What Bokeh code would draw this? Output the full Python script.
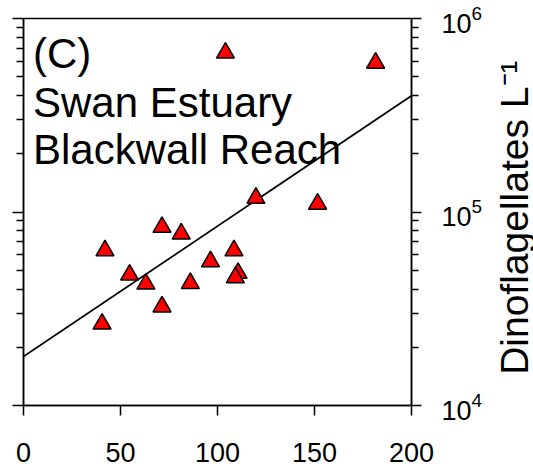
import math
from bokeh.plotting import figure
from bokeh.layouts import row
from bokeh.models import (LogAxis, FixedTicker, Range1d, Label,
                          CustomJSTickFormatter, ColumnDataSource)
from bokeh.core.properties import value
from bokeh.embed import file_html
from bokeh.resources import INLINE

# ---- data ----
flow = [104.1, 181.5, 119.8, 151.6, 71.4, 81.3, 42.0, 108.5, 96.4, 54.7,
        110.6, 109.2, 63.1, 86.0, 71.4, 40.5]
dino = [6.64e5, 5.89e5, 1.18e5, 1.10e5, 8.35e4, 7.71e4, 6.32e4, 6.32e4,
        5.54e4, 4.73e4, 4.83e4, 4.58e4, 4.25e4, 4.28e4, 3.24e4, 2.64e4]
fit_x = [0, 200]
fit_y = [1.79e4, 3.99e5]
x_ticks = [0, 50, 100, 150, 200]
y_major = [1e4, 1e5, 1e6]
y_minor = [2e4, 3e4, 4e4, 5e4, 6e4, 7e4, 8e4, 9e4,
           2e5, 3e5, 4e5, 5e5, 6e5, 7e5, 8e5, 9e5]
panel_lines = ["(C)", "Swan Estuary", "Blackwall Reach"]
panel_y = [6.59e5, 3.70e5, 2.10e5]
y_label = "Dinoflagellates L\u207b\u00b9"

FONT = "Liberation Sans"
W = 1.5

p = figure(width=493, height=467, output_backend="svg", toolbar_location=None,
           x_range=Range1d(0, 200), y_range=Range1d(1e4, 1e6),
           y_axis_type="log",
           min_border_left=23, min_border_right=82,
           min_border_top=18, min_border_bottom=62)
p.background_fill_color = "white"
p.border_fill_color = "white"
p.outline_line_color = "black"
p.outline_line_width = W
p.xgrid.visible = False
p.ygrid.visible = False

# bottom axis
xa = p.xaxis[0]
xa.ticker = FixedTicker(ticks=x_ticks)
xa.minor_tick_line_color = None
xa.major_tick_in = 0
xa.major_tick_out = 10
xa.axis_line_width = W
xa.major_tick_line_width = W
xa.major_label_text_font = FONT
xa.major_label_text_font_size = "27px"
xa.major_label_text_color = "black"
xa.major_label_standoff = 27
xa.axis_line_color = "black"

# left axis (ticks only)
ya = p.yaxis[0]
ya.ticker = FixedTicker(ticks=y_major, minor_ticks=y_minor)
ya.major_tick_in = 0
ya.major_tick_out = 11
ya.minor_tick_in = 0
ya.minor_tick_out = 7
ya.axis_line_width = W
ya.major_tick_line_width = W
ya.minor_tick_line_width = W
ya.formatter = CustomJSTickFormatter(code="return ''")
ya.major_label_standoff = 0
ya.major_label_text_font_size = "1px"

# right axis with labels
ra = LogAxis(ticker=FixedTicker(ticks=y_major, minor_ticks=y_minor))
ra.major_tick_in = 0
ra.major_tick_out = 10
ra.minor_tick_in = 0
ra.minor_tick_out = 7
ra.axis_line_width = W
ra.major_tick_line_width = W
ra.minor_tick_line_width = W
ra.major_label_text_font = FONT
ra.major_label_text_font_size = "27px"
ra.major_label_text_color = "black"
ra.major_label_standoff = 20
p.add_layout(ra, "right")

# regression line
p.line(fit_x, fit_y, line_color="black", line_width=1.7)

# data points
src = ColumnDataSource(data=dict(x=flow, y=dino))
p.scatter("x", "y", source=src, marker="triangle", size=18,
          fill_color="#ff0000", line_color="black", line_width=1.5)

# panel text
for txt, yy in zip(panel_lines, panel_y):
    p.add_layout(Label(x=4.9, y=yy, text=txt, text_font=FONT,
                       text_font_size="42px", text_color="black",
                       text_align="left", text_baseline="alphabetic"))

# narrow strip on the right holding the rotated axis title
t = figure(width=40, height=467, output_backend="svg", toolbar_location=None,
           x_range=Range1d(0, 40), y_range=Range1d(0, 467),
           x_axis_location=None, y_axis_location=None,
           min_border_left=0, min_border_right=0,
           min_border_top=0, min_border_bottom=0)
t.outline_line_color = None
t.background_fill_color = "white"
t.border_fill_color = "white"
t.xgrid.visible = False
t.ygrid.visible = False
t.text(x=[20.5], y=[37], text=[y_label], angle=math.pi / 2,
       text_align="left", text_baseline="alphabetic",
       text_font=value(FONT), text_font_size=value("39px"),
       text_color="black")

layout = row(p, t, spacing=0)
open("out.html", "w").write(file_html(layout, INLINE))
